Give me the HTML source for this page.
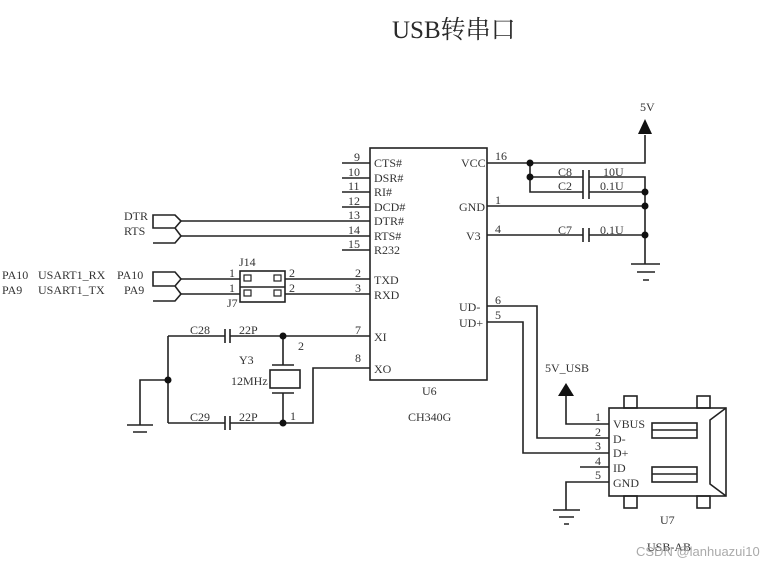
<!DOCTYPE html>
<html><head><meta charset="utf-8"><style>
html,body{margin:0;padding:0;background:#fff;}
svg{display:block}
text{font-family:"Liberation Serif","Noto Serif CJK SC",serif;fill:#333;font-size:12px}
</style></head><body>
<svg width="774" height="564" viewBox="0 0 774 564" xmlns="http://www.w3.org/2000/svg">
<text x="392" y="38" style="font-size:25px;fill:#2a2a2a">USB转串口</text>
<g stroke="#222" stroke-width="1.6" fill="none">
<rect x="370" y="148" width="117" height="232"/>
<path d="M342 163H370M342 178H370M342 192H370M342 207H370M342 221H370M342 236H370M342 250H370"/>
<path d="M181 221H342M181 236H342"/>
<path d="M153 215H175L181 221L175 228H153ZM153 228H175L181 236L175 243H153"/>
<path d="M153 272H175L181 279L175 286H153ZM153 286H175L181 294L175 301H153"/>
<path d="M181 279H240M181 294H240M285 279H370M285 294H370"/>
<rect x="240" y="271" width="45" height="31"/>
<path d="M240 287H285"/>
<rect x="244" y="275" width="7" height="6" stroke-width="1.2"/><rect x="274" y="275" width="7" height="6" stroke-width="1.2"/>
<rect x="244" y="290" width="7" height="6" stroke-width="1.2"/><rect x="274" y="290" width="7" height="6" stroke-width="1.2"/>
<path d="M168 336H225M230 336H370M225 329V343M230 329V343"/>
<path d="M168 423H225M230 423H313V368H370M225 416V430M230 416V430"/>
<path d="M168 336V423M283 336V365M283 393V423M272 365H294M272 393H294"/>
<rect x="270" y="370" width="30" height="18"/>
<path d="M168 380H140V425M127 425H153M133 432H147"/>
<path d="M487 163H645V135M530 163V192H583M530 177H583M589 177H645V264M589 192H645M583 170V199M589 170V199"/>
<path d="M487 206H645M487 235H583M589 235H645M583 228V242M589 228V242"/>
<path d="M631 264H660M637 272H655M643 280H649"/>
<path d="M487 306H537V438H609M487 322H523V453H609M580 467H609"/>
<path d="M566 395V424H609M609 482H566V510M553 510H580M559 517H574M564 524H569"/>
<rect x="609" y="408" width="117" height="88"/>
<path d="M726 408L710 420V484L726 496"/>
<rect x="624" y="396" width="13" height="12"/><rect x="697" y="396" width="13" height="12"/>
<rect x="624" y="496" width="13" height="12"/><rect x="697" y="496" width="13" height="12"/>
<rect x="652" y="423" width="45" height="15"/><rect x="652" y="467" width="45" height="15"/>
<path d="M652 430H697M652 474H697"/>
</g>
<g fill="#111">
<circle cx="530" cy="163" r="3.5"/><circle cx="530" cy="177" r="3.5"/>
<circle cx="645" cy="192" r="3.5"/><circle cx="645" cy="206" r="3.5"/><circle cx="645" cy="235" r="3.5"/>
<circle cx="283" cy="336" r="3.5"/><circle cx="283" cy="423" r="3.5"/><circle cx="168" cy="380" r="3.5"/>
<path d="M645 119L638 134H652Z"/><path d="M566 383L558 396H574Z"/>
</g>
<g>
<text x="354" y="161">9</text><text x="348" y="176">10</text><text x="348" y="190">11</text><text x="348" y="205">12</text><text x="348" y="219">13</text><text x="348" y="234">14</text><text x="348" y="248">15</text>
<text x="374" y="167">CTS#</text><text x="374" y="182">DSR#</text><text x="374" y="196">RI#</text><text x="374" y="211">DCD#</text><text x="374" y="225">DTR#</text><text x="374" y="240">RTS#</text><text x="374" y="254">R232</text>
<text x="355" y="277">2</text><text x="355" y="292">3</text><text x="355" y="334">7</text><text x="355" y="362">8</text>
<text x="374" y="284">TXD</text><text x="374" y="299">RXD</text><text x="374" y="341">XI</text><text x="374" y="373">XO</text>
<text x="461" y="167">VCC</text><text x="459" y="211">GND</text><text x="466" y="240">V3</text>
<text x="459" y="311">UD-</text><text x="459" y="327">UD+</text>
<text x="495" y="160">16</text><text x="495" y="204">1</text><text x="495" y="233">4</text><text x="495" y="304">6</text><text x="495" y="319">5</text>
<text x="422" y="395">U6</text><text x="408" y="421">CH340G</text>
<text x="124" y="220">DTR</text><text x="124" y="235">RTS</text>
<text x="2" y="279">PA10</text><text x="38" y="279">USART1_RX</text><text x="117" y="279">PA10</text>
<text x="2" y="294">PA9</text><text x="38" y="294">USART1_TX</text><text x="124" y="294">PA9</text>
<text x="239" y="266">J14</text><text x="227" y="307">J7</text>
<text x="229" y="277">1</text><text x="229" y="292">1</text><text x="289" y="277">2</text><text x="289" y="292">2</text>
<text x="190" y="334">C28</text><text x="239" y="334">22P</text>
<text x="190" y="421">C29</text><text x="239" y="421">22P</text>
<text x="298" y="350">2</text><text x="290" y="420">1</text>
<text x="239" y="364">Y3</text><text x="231" y="385">12MHz</text>
<text x="640" y="111">5V</text>
<text x="558" y="176">C8</text><text x="603" y="176">10U</text>
<text x="558" y="190">C2</text><text x="600" y="190">0.1U</text>
<text x="558" y="234">C7</text><text x="600" y="234">0.1U</text>
<text x="545" y="372">5V_USB</text>
<text x="595" y="421">1</text><text x="595" y="436">2</text><text x="595" y="450">3</text><text x="595" y="465">4</text><text x="595" y="479">5</text>
<text x="613" y="428">VBUS</text><text x="613" y="443">D-</text><text x="613" y="457">D+</text><text x="613" y="472">ID</text><text x="613" y="487">GND</text>
<text x="660" y="524">U7</text><text x="647" y="551">USB-AB</text>
<text x="636" y="556" style="font-family:'Liberation Sans',sans-serif;font-size:13px;fill:#aaa">CSDN @lanhuazui10</text>
</g>
</svg>
</body></html>
